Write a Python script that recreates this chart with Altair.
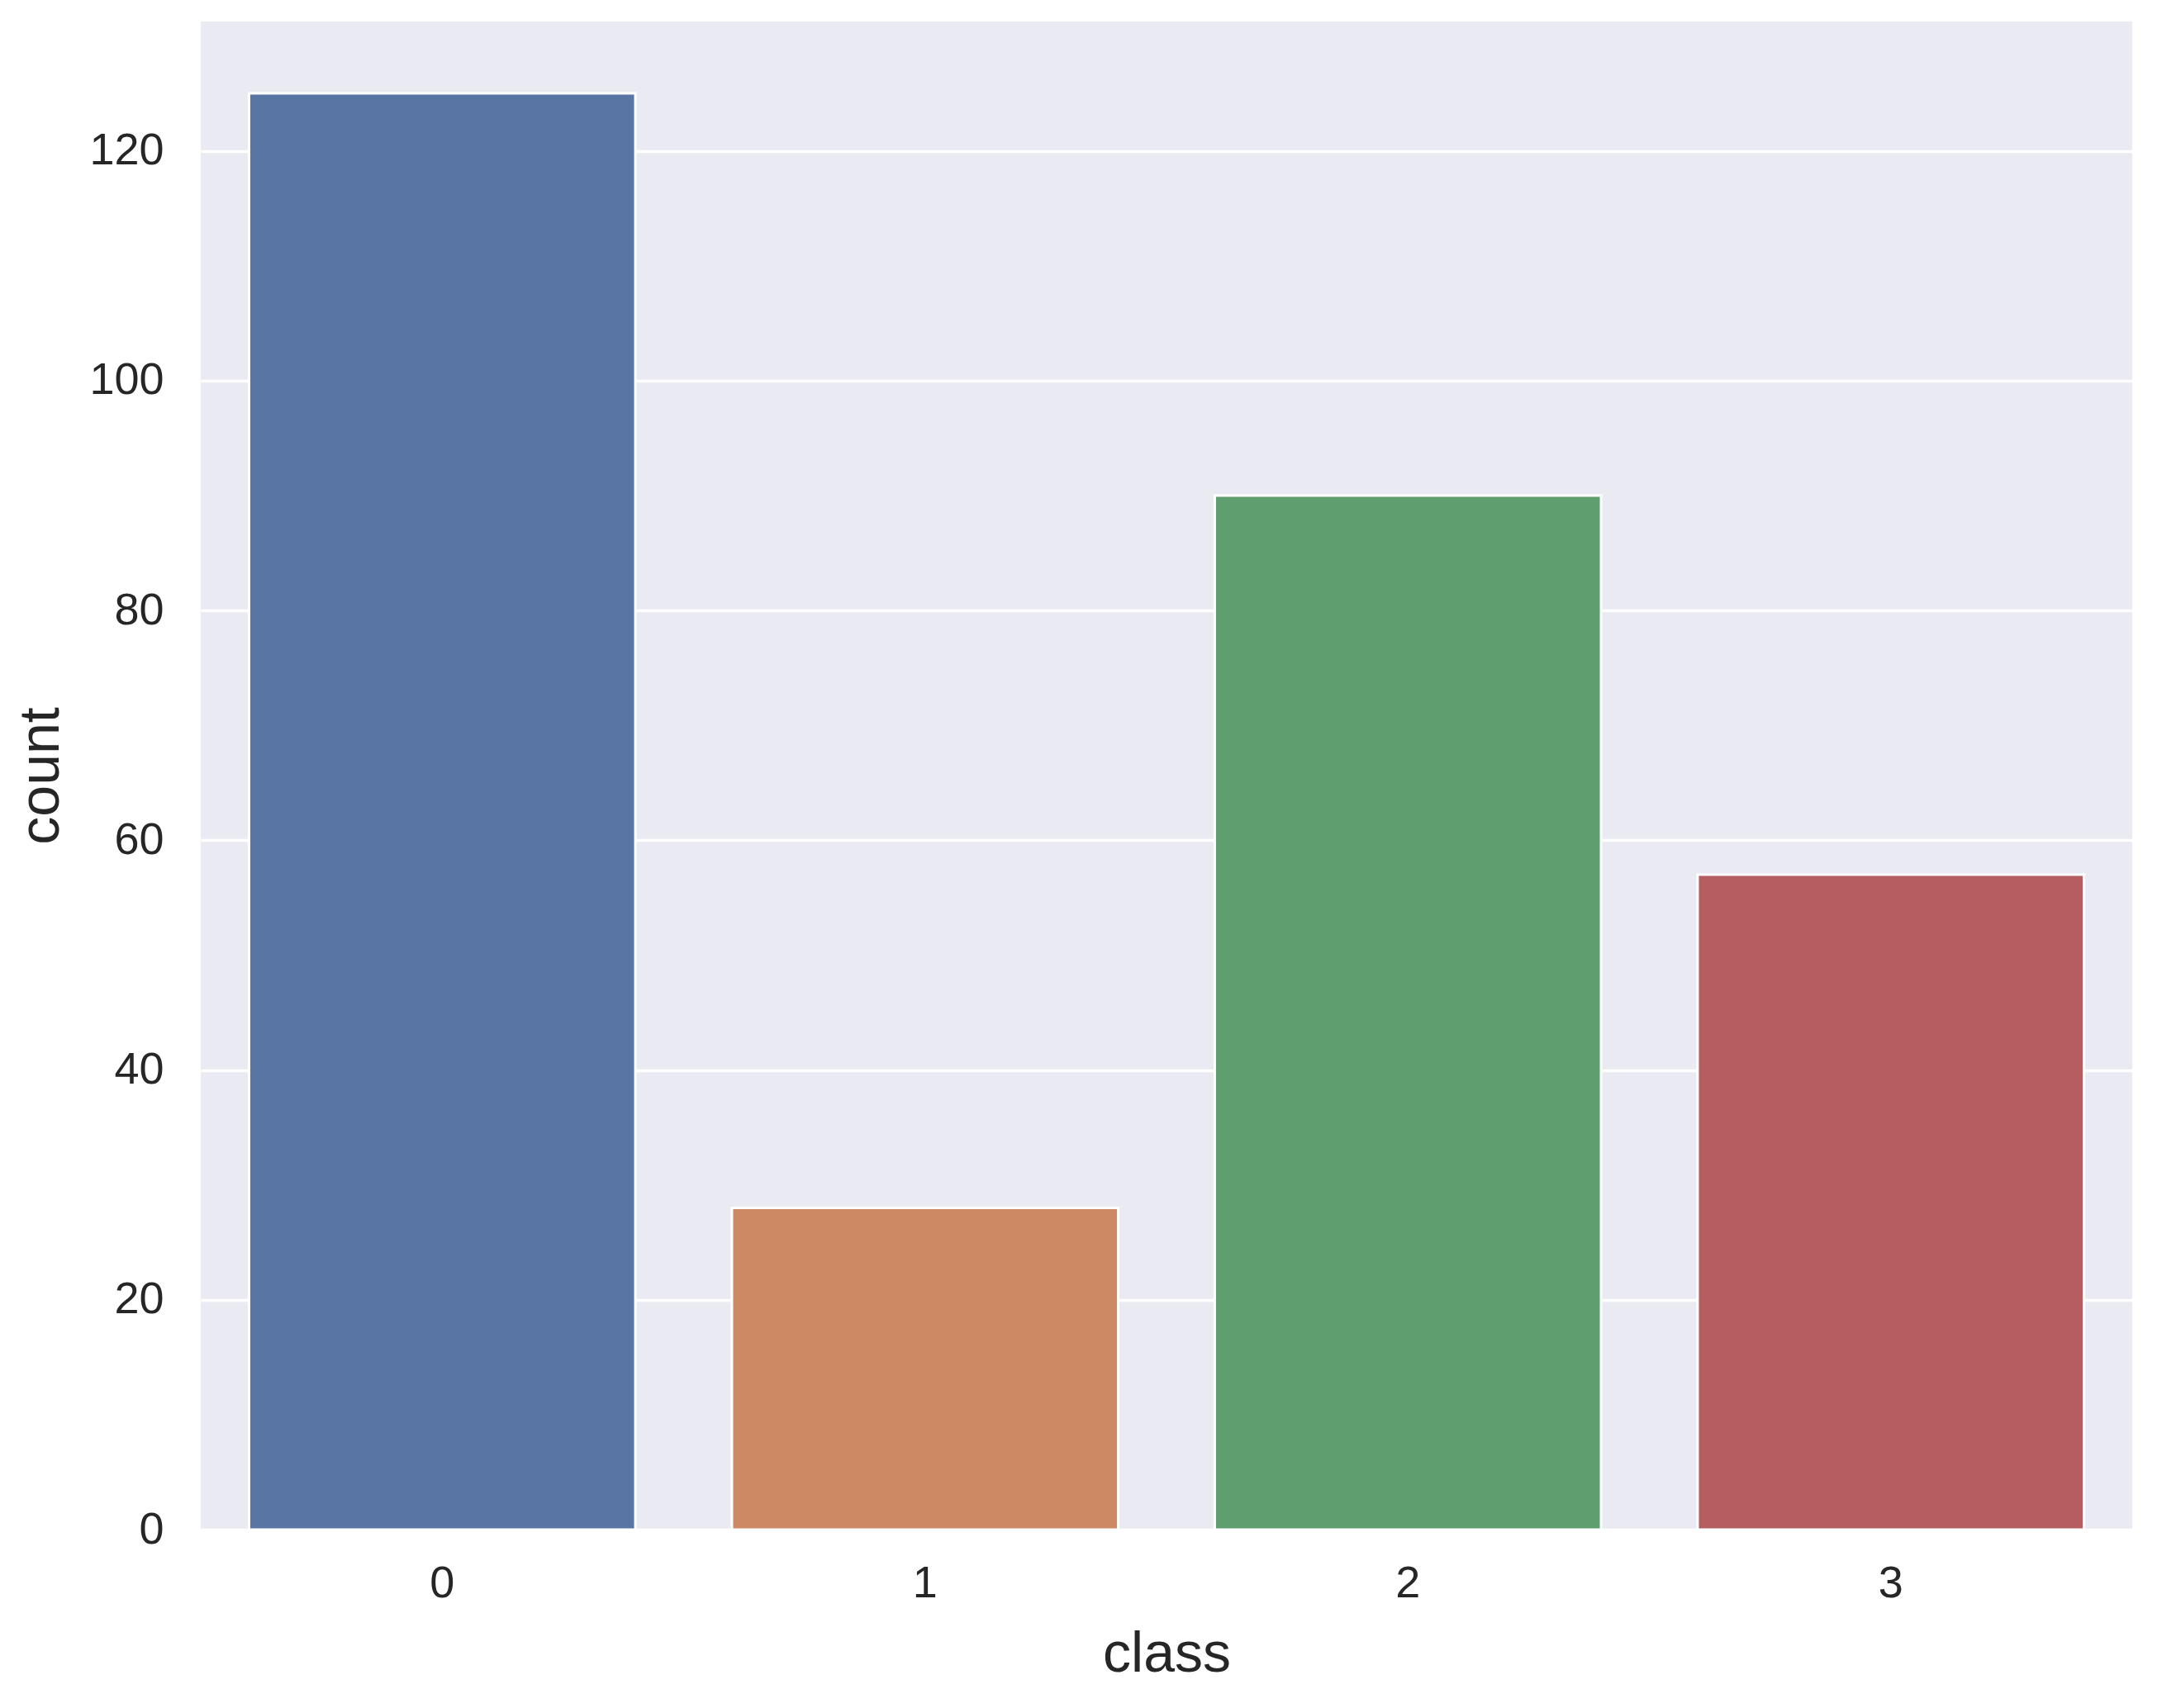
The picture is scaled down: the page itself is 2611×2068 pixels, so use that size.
import altair as alt
import pandas as pd

classes = ["0", "1", "2", "3"]
counts = [125, 28, 90, 57]
colors = ["#5875A4", "#CC8963", "#5F9E6E", "#B55D60"]
y_ticks = [0, 20, 40, 60, 80, 100, 120]

df = pd.DataFrame({"class": classes, "count": counts})

chart = alt.Chart(df).mark_bar(stroke="white", strokeWidth=3).encode(
    x=alt.X("class:N", sort=classes,
            scale=alt.Scale(paddingInner=0.2, paddingOuter=0.1),
            axis=alt.Axis(title="class", labelAngle=0, ticks=False, domain=False,
                          grid=False, labelPadding=38, labelFontSize=54,
                          titleFontSize=68, titleFontWeight="normal",
                          titleY=171, titleBaseline="alphabetic")),
    y=alt.Y("count:Q", scale=alt.Scale(domain=[0, 131.25], nice=False),
            axis=alt.Axis(title="count", values=y_ticks, ticks=False, domain=False,
                          gridColor="white", gridWidth=3.5, labelPadding=45,
                          labelFontSize=54, titleFontSize=68, titleFontWeight="normal",
                          titleX=-173, titleBaseline="alphabetic")),
    color=alt.Color("class:N", scale=alt.Scale(domain=classes, range=colors), legend=None),
).properties(
    width=2338, height=1826,
    autosize=alt.AutoSizeParams(type="none"),
    padding={"left": 235, "top": 18, "right": 22, "bottom": 190},
).configure_view(
    fill="#EAEAF2", stroke=None
).configure_axis(
    labelFont="Liberation Sans", titleFont="Liberation Sans",
    labelColor="#262626", titleColor="#262626"
)

chart.save("out.html", embed_options={"renderer": "svg", "actions": False})
